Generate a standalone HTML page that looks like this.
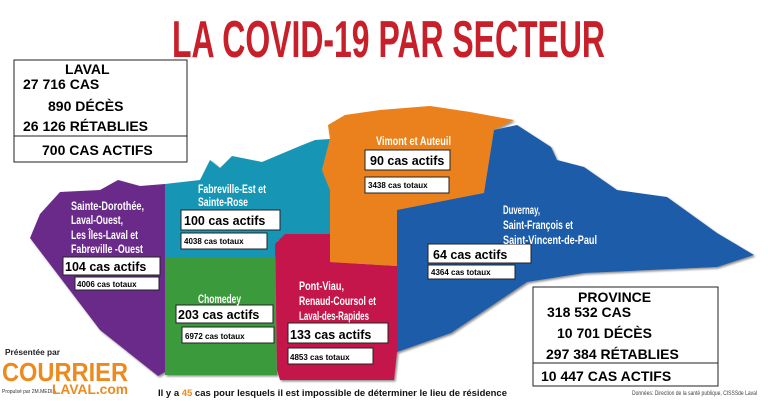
<!DOCTYPE html>
<html><head><meta charset="utf-8"><style>
body{margin:0;background:#fff;}
svg{display:block;font-family:"Liberation Sans",sans-serif;}
.n{font-family:"Liberation Sans Narrow","Liberation Sans",sans-serif;font-weight:bold;fill:#fff;font-size:12px;}
.b{font-weight:bold;fill:#000;}
</style></head><body>
<svg width="768" height="401" viewBox="0 0 768 401">
<defs><filter id="s" x="-5%" y="-5%" width="110%" height="110%"><feDropShadow dx="1.5" dy="1.5" stdDeviation="1" flood-color="#000" flood-opacity="0.45"/></filter></defs>
<text x="172" y="57" textLength="433" lengthAdjust="spacingAndGlyphs" font-size="52" font-weight="bold" fill="#c8202a" font-family="Liberation Sans Narrow,Liberation Sans,sans-serif">LA COVID-19 PAR SECTEUR</text>
<g filter="url(#s)">
<polygon fill="#6a2a8a" points="60,192 100,190 118,180 140,186 165,184 165,372 158,376 100,330 30,238 40,214"/>
<polygon fill="#1995b5" points="165,184 200,180 210,160 220,168 232,156 262,162 300,146 315,140 330,139 322,170 330,190 330,240 278,240 275,258 165,258"/>
<polygon fill="#3b9a3b" points="165,258 275,258 277,375 165,375"/>
<polygon fill="#c4164c" points="275,244 285,234 330,234 330,262 397,266 397,352 394,380 280,380 277,370"/>
<polygon fill="#ea811c" points="330,139 328,125 345,115 380,110 430,106 470,112 514,120 494,130 484,193 397,210 397,266 330,262 330,190 322,170"/>
<polygon fill="#1b5ba8" points="397,210 484,193 494,130 517,125 551,147 557,160 584,167 617,190 667,197 717,233 754,255 717,267 584,273 527,282 451,333 397,352"/>
</g>
<g fill="#fff" stroke="#222" stroke-width="1">
<rect x="14" y="60" width="173" height="102"/><line x1="14" y1="136" x2="187" y2="136"/>
<rect x="533" y="287" width="185" height="99"/><line x1="533" y1="363" x2="718" y2="363"/>
<rect x="365" y="150" width="85" height="20"/><rect x="365" y="177" width="84" height="16"/>
<rect x="181" y="210" width="99" height="20"/><rect x="181" y="233" width="86" height="16"/>
<rect x="63" y="257" width="97" height="18"/><rect x="75" y="277" width="84" height="13"/>
<rect x="176" y="305" width="97" height="18"/><rect x="182" y="327" width="92" height="16"/>
<rect x="288" y="323" width="100" height="20"/><rect x="288" y="348" width="85" height="16"/>
<rect x="428" y="244" width="103" height="19"/><rect x="428" y="265" width="87" height="14"/>
</g>
<g class="b" font-size="14">
<text x="65" y="74">LAVAL</text><text x="23" y="89">27 716 CAS</text><text x="48" y="111">890 DÉCÈS</text><text x="23" y="131">26 126 RÉTABLIES</text><text x="42" y="155">700 CAS ACTIFS</text>
<text x="578" y="302">PROVINCE</text><text x="547" y="317">318 532 CAS</text><text x="557" y="338">10 701 DÉCÈS</text><text x="546" y="359">297 384 RÉTABLIES</text><text x="541" y="381">10 447 CAS ACTIFS</text>
</g>
<g class="b" font-size="12.5">
<text x="370" y="165">90 cas actifs</text><text x="184" y="225">100 cas actifs</text><text x="65" y="271">104 cas actifs</text><text x="178" y="319">203 cas actifs</text><text x="290" y="339">133 cas actifs</text><text x="433" y="259">64 cas actifs</text>
</g>
<g class="b" font-size="8">
<text x="368" y="188">3438 cas totaux</text><text x="184" y="244">4038 cas totaux</text><text x="77" y="287">4006 cas totaux</text><text x="185" y="339">6972 cas totaux</text><text x="290" y="360">4853 cas totaux</text><text x="431" y="275">4364 cas totaux</text>
</g>
<g class="n" lengthAdjust="spacingAndGlyphs">
<text x="376" y="145" textLength="75" lengthAdjust="spacingAndGlyphs">Vimont et Auteuil</text>
<text x="198" y="193" textLength="68" lengthAdjust="spacingAndGlyphs">Fabreville-Est et</text><text x="198" y="206" textLength="50" lengthAdjust="spacingAndGlyphs">Sainte-Rose</text>
<text x="71" y="210" textLength="73" lengthAdjust="spacingAndGlyphs">Sainte-Dorothée,</text><text x="71" y="224" textLength="52" lengthAdjust="spacingAndGlyphs">Laval-Ouest,</text><text x="71" y="239" textLength="67" lengthAdjust="spacingAndGlyphs">Les Îles-Laval et</text><text x="71" y="253" textLength="72" lengthAdjust="spacingAndGlyphs">Fabreville -Ouest</text>
<text x="198" y="303" textLength="43" lengthAdjust="spacingAndGlyphs">Chomedey</text>
<text x="299" y="290" textLength="45" lengthAdjust="spacingAndGlyphs">Pont-Viau,</text><text x="299" y="305" textLength="77" lengthAdjust="spacingAndGlyphs">Renaud-Coursol et</text><text x="299" y="320" textLength="70" lengthAdjust="spacingAndGlyphs">Laval-des-Rapides</text>
<text x="503" y="214" textLength="37" lengthAdjust="spacingAndGlyphs">Duvernay,</text><text x="503" y="229" textLength="70" lengthAdjust="spacingAndGlyphs">Saint-François et</text><text x="503" y="244" textLength="94" lengthAdjust="spacingAndGlyphs">Saint-Vincent-de-Paul</text>
</g>
<text x="5" y="355" font-size="8" font-weight="bold" fill="#222" textLength="55" lengthAdjust="spacingAndGlyphs">Présentée par</text>
<text x="2" y="381" textLength="126" lengthAdjust="spacingAndGlyphs" font-size="26" font-weight="bold" fill="#ec8a1e">COURRIER</text>
<text x="2" y="393" font-size="5" fill="#333">Propulsé par 2M.MEDIA</text>
<text x="52" y="394" textLength="76" lengthAdjust="spacingAndGlyphs" font-size="14" font-weight="bold" fill="#ec8a1e">LAVAL.com</text>
<text x="158" y="396" textLength="349" lengthAdjust="spacingAndGlyphs" font-size="9" font-weight="bold" fill="#111">Il y a <tspan fill="#ec8a1e">45</tspan> cas pour lesquels il est impossible de déterminer le lieu de résidence</text>
<text x="632" y="395" textLength="125" lengthAdjust="spacingAndGlyphs" font-size="6" fill="#444">Données: Direction de la santé publique, CISSSde Laval</text>
</svg>
</body></html>
